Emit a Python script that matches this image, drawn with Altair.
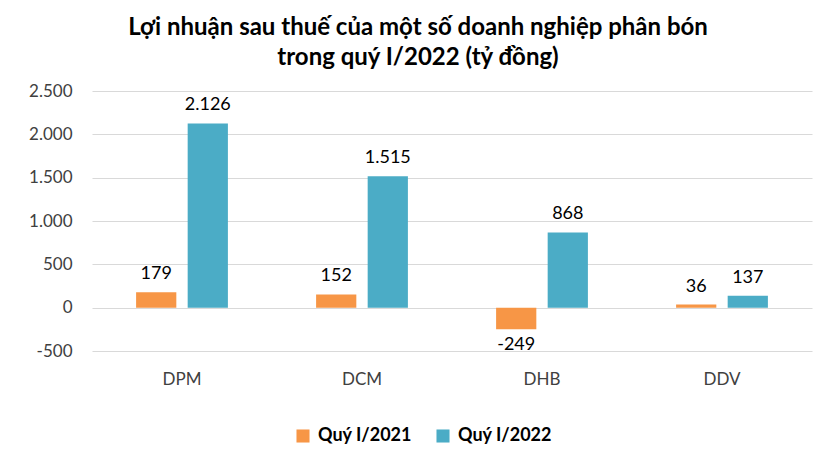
import altair as alt
import pandas as pd

companies = ["DPM", "DCM", "DHB", "DDV"]
q2021 = [179, 152, -249, 36]
q2022 = [2126, 1515, 868, 137]
series_names = ["Quý I/2021", "Quý I/2022"]
colors = ["#F79646", "#4BACC6"]

rows = []
for i, c in enumerate(companies):
    rows.append({"company": c, "series": series_names[0], "value": q2021[i]})
    rows.append({"company": c, "series": series_names[1], "value": q2022[i]})
df = pd.DataFrame(rows)

FONT = "Lato"
FMT = "replace(replace(format({v}, ','), ',', '.'), '\u2212', '-')"

x = alt.X("company:N", sort=companies, title=None,
          scale=alt.Scale(paddingInner=0.49, paddingOuter=0.245),
          axis=alt.Axis(labelAngle=0, labelFontSize=17, labelColor="#404040",
                        labelPadding=20, ticks=False, domain=False, grid=False,
                        labelFont=FONT))
xo = alt.XOffset("series:N", sort=series_names,
                 scale=alt.Scale(paddingInner=0.22, paddingOuter=0))
y = alt.Y("value:Q", title=None,
          scale=alt.Scale(domain=[-500, 2500], nice=False),
          axis=alt.Axis(values=[-500, 0, 500, 1000, 1500, 2000, 2500],
                        labelExpr=FMT.format(v="datum.value"),
                        labelFontSize=17, labelColor="#404040", labelPadding=20,
                        ticks=False, domain=False, grid=True, gridColor="#d9d9d9",
                        labelFont=FONT))
color = alt.Color("series:N", sort=series_names,
                  scale=alt.Scale(domain=series_names, range=colors),
                  legend=alt.Legend(title=None, orient="none", direction="horizontal",
                                    legendX=202, legendY=336,
                                    symbolType="square", symbolSize=170,
                                    symbolStrokeWidth=0,
                                    labelFontSize=18, labelFontWeight="bold",
                                    labelFont=FONT, labelColor="#000000",
                                    columnPadding=22, labelOffset=6))

base = alt.Chart(df).transform_calculate(
    label=FMT.format(v="datum.value")
)

bars = base.mark_bar().encode(x=x, xOffset=xo, y=y, color=color)

pos_text = base.transform_filter("datum.value >= 0").mark_text(
    baseline="bottom", dy=-9, fontSize=18, font=FONT, color="#000000"
).encode(x=x, xOffset=xo, y=y, text="label:N")

neg_text = base.transform_filter("datum.value < 0").mark_text(
    baseline="top", dy=7, fontSize=18, font=FONT, color="#000000"
).encode(x=x, xOffset=xo, y=y, text="label:N")

chart = alt.layer(bars, pos_text, neg_text).properties(
    width=720, height=260,
    title=alt.Title(["Lợi nhuận sau thuế của một số doanh nghiệp phân bón",
                     "trong quý I/2022 (tỷ đồng)"],
                    font=FONT, fontSize=24, fontWeight="bold", color="#000000",
                    anchor="middle", dx=-34, lineHeight=30, offset=12),
    autosize=alt.AutoSizeParams(type="none"),
    padding={"left": 84, "top": 83, "right": 15, "bottom": 100},
).configure_view(stroke=None)

chart.save("out.html", embed_options={"renderer": "svg", "actions": False})
